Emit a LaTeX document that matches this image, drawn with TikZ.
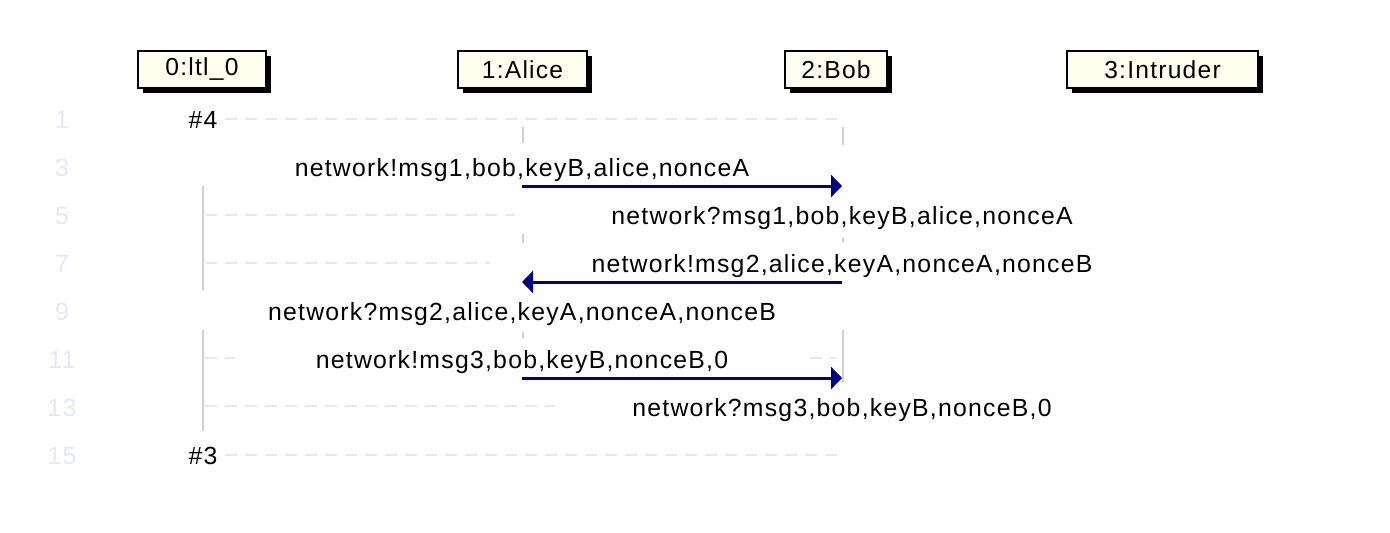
\documentclass[tikz,border=0pt]{standalone}
\usepackage{fontspec}
\setmainfont{Liberation Sans}[LetterSpace=5]
\usetikzlibrary{arrows.meta,shadows}
\definecolor{procfill}{RGB}{255,255,240}
\definecolor{rowlav}{RGB}{230,230,250}
\definecolor{msgblue}{RGB}{0,0,128}
\definecolor{lifegray}{RGB}{208,208,208}
\tikzset{
  proc/.style={draw=black, line width=1pt, fill=procfill, minimum height=18.5pt, inner sep=0pt,
    font=\fontsize{12.3}{14}\selectfont,
    drop shadow={shadow xshift=2.5pt, shadow yshift=-2.5pt, fill=black, opacity=1}},
  rownum/.style={text=rowlav, anchor=base, inner sep=0pt, font=\fontsize{12.5}{14}\selectfont},
  msglabel/.style={anchor=base, inner sep=0pt, font=\fontsize{12.4}{14}\selectfont},
  msg/.style={draw=msgblue, line width=1.5pt, -{Triangle[length=5.5pt,width=11pt]}},
  life/.style={draw=lifegray, line width=1pt},
  rowline/.style={draw=rowlav, line width=0.8pt, dash pattern=on 6pt off 4pt},
}

\begin{document}
\begin{tikzpicture}[x=0.5pt,y=-0.5pt]
  \useasboundingbox (0,0) rectangle (1390,532);

  %%%%% processes %%%%%
  \node[proc, minimum width=64pt] (ltl) at (202,69.5) {0:ltl\_0};
  \node[proc, minimum width=64.5pt] (alice) at (522.5,69.5) {1:Alice};
  \node[proc, minimum width=51pt] (bob) at (836,69.5) {2:Bob};
  \node[proc, minimum width=95.5pt] (intruder) at (1162.5,69.5) {3:Intruder};

  \coordinate (ltlx) at (203,0);
  \coordinate (alicex) at (522,0);
  \coordinate (bobx) at (842,0);

  %%%%% step numbers %%%%%
  \foreach \r in {1,3,...,15} {
    \coordinate (r\r) at (0,{95+24*\r+9});
    \node[rownum] (num\r) at (62,{95+24*\r+9}) {\r};
  }

  %%%%% dashed step lines %%%%%
  \draw[rowline] (225,119) -- (838,119);
  \draw[rowline] (205,215) -- (515,215);
  \draw[rowline] (205,263) -- (490,263);
  \draw[rowline] (205,358) -- (235,358);
  \draw[rowline] (810,358) -- (836,358);
  \draw[rowline] (205,406) -- (555,406);
  \draw[rowline] (225,455) -- (838,455);

  %%%%% lifelines %%%%%
  \draw[life] (203,186) -- (203,290);
  \draw[life] (203,330) -- (203,431);
  \draw[life] (523,127) -- (523,143);
  \draw[life] (523,234) -- (523,243);
  \draw[life] (523,332) -- (523,338);
  \draw[life] (843,127) -- (843,145);
  \draw[life] (843,238) -- (843,242);
  \draw[life] (843,330) -- (843,382);

  %%%%% labels %%%%%
  \node[msglabel] (start) at (ltlx |- r1) {\#4};
  \node[msglabel] (end) at (ltlx |- r15) {\#3};
  \node[msglabel] (send1) at (alicex |- r3) {network!msg1,bob,keyB,alice,nonceA};
  \node[msglabel] (recv1) at (bobx |- r5) {network?msg1,bob,keyB,alice,nonceA};
  \node[msglabel] (send2) at (bobx |- r7) {network!msg2,alice,keyA,nonceA,nonceB};
  \node[msglabel] (recv2) at (alicex |- r9) {network?msg2,alice,keyA,nonceA,nonceB};
  \node[msglabel] (send3) at (alicex |- r11) {network!msg3,bob,keyB,nonceB,0};
  \node[msglabel] (recv3) at (bobx |- r13) {network?msg3,bob,keyB,nonceB,0};

  %%%%% messages %%%%%
  \coordinate (a1) at (522,186);
  \coordinate (b1) at (842,186);
  \coordinate (a2) at (522,282);
  \coordinate (b2) at (842,282);
  \coordinate (a3) at (522,378);
  \coordinate (b3) at (842,378);
  \draw[msg] (a1) -- (b1);
  \draw[msg] (b2) -- (a2);
  \draw[msg] (a3) -- (b3);
\end{tikzpicture}
\end{document}
